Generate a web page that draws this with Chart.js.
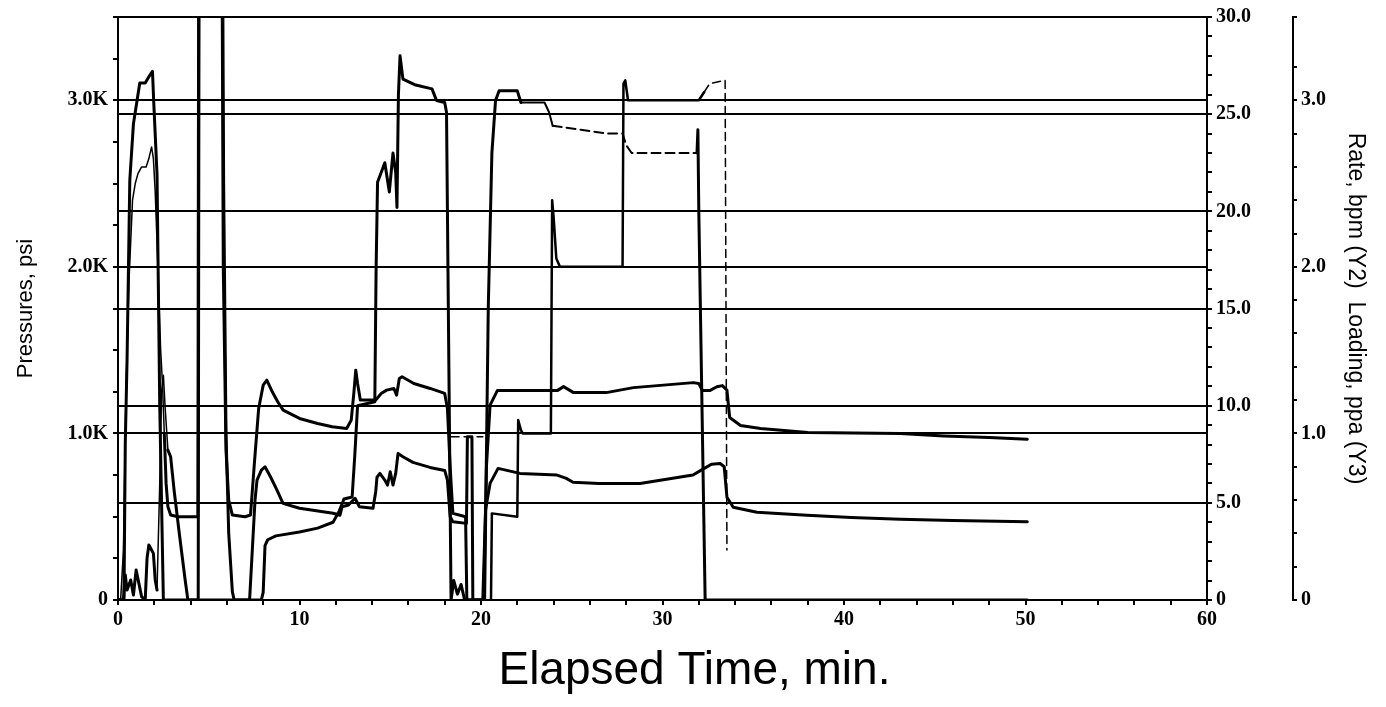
<!DOCTYPE html>
<html>
<head>
<meta charset="utf-8">
<title>Treatment plot</title>
<script src="https://cdn.jsdelivr.net/npm/chart.js@4.4.0/dist/chart.umd.min.js"></script>
<style>
  body { margin: 0; background: #fff; }
</style>
</head>
<body>
<canvas id="chart" width="1386" height="707"></canvas>
<script>
// [minutes, psi]
const treatingPressure = [
  [0, 0], [0.15, 10], [0.3, 300], [0.45, 1300], [0.6, 1900], [0.8, 2400], [0.95, 2500], [1.1, 2560],
  [1.3, 2600], [1.55, 2600], [1.7, 2650], [1.85, 2720], [1.95, 2650], [2.05, 2450], [2.2, 2000],
  [2.35, 1500], [2.45, 1300], [2.55, 1000], [2.65, 700], [2.75, 560], [2.9, 510], [3.3, 500],
  [4.4, 500], [4.45, 4200], [5.72, 4200], [5.8, 2000], [5.95, 900], [6.1, 600], [6.3, 510],
  [7.0, 500], [7.3, 510], [7.5, 800], [7.75, 1150], [8.0, 1290], [8.2, 1320], [8.5, 1250],
  [8.8, 1190], [9.1, 1140], [10.0, 1090], [11.0, 1060], [11.8, 1040], [12.6, 1030], [12.85, 1080],
  [13.0, 1250], [13.1, 1380], [13.2, 1300], [13.35, 1200], [14.2, 1200], [14.5, 1240], [14.8, 1260],
  [15.2, 1270], [15.35, 1230], [15.5, 1330], [15.65, 1340], [16.3, 1300], [17.2, 1270], [18.0, 1240],
  [18.15, 1150], [18.3, 800], [18.45, 520], [19.15, 500], [19.22, 0], [20.15, 0], [20.3, 800],
  [20.5, 1170], [20.9, 1257], [22.1, 1257], [24.2, 1257], [24.55, 1281], [25.1, 1245], [26.9, 1245],
  [28.4, 1275], [31.7, 1305], [32.0, 1300], [32.2, 1257], [32.6, 1257], [33.0, 1280], [33.3, 1287],
  [33.55, 1260], [33.7, 1096], [34.3, 1048], [35.4, 1030], [38.0, 1006], [43.1, 1000], [45.5, 985],
  [48.0, 975], [50.1, 965]
];

// [minutes, psi]
const annulusPressure = [
  [0, 0], [0.3, 0], [0.4, 150], [0.5, 60], [0.7, 120], [0.85, 30], [1.0, 180], [1.15, 100], [1.3, 20],
  [1.5, 0], [1.6, 250], [1.7, 330], [1.85, 300], [1.95, 280], [2.05, 120], [2.15, 60], [2.3, 700],
  [2.4, 1250], [2.5, 1350], [2.6, 1150], [2.75, 900], [2.9, 860], [3.1, 650], [3.4, 380], [3.7, 120],
  [3.85, 0], [4.42, 0], [4.47, 4200], [5.75, 4200], [5.82, 2500], [5.95, 1000], [6.1, 400], [6.3, 50],
  [6.4, 0], [7.25, 0], [7.4, 300], [7.55, 600], [7.66, 720], [7.9, 780], [8.1, 800], [8.4, 740],
  [8.76, 660], [9.09, 580], [10.0, 551], [11.85, 521], [12.23, 509], [12.35, 560], [12.7, 570],
  [13.06, 611], [13.3, 560], [14.05, 551], [14.2, 650], [14.27, 737], [14.43, 760], [14.7, 720],
  [14.85, 690], [15.0, 770], [15.15, 690], [15.3, 760], [15.43, 880], [15.7, 860], [16.25, 826],
  [17.19, 796], [18.0, 778], [18.15, 720], [18.3, 500], [18.45, 470], [19.2, 460], [19.25, 980],
  [19.5, 980], [19.55, 0], [20.1, 0], [20.25, 540], [20.5, 700], [20.94, 790], [22.15, 760],
  [24.19, 750], [24.7, 730], [25.07, 707], [26.5, 700], [28.76, 700], [31.68, 750], [32.3, 790],
  [32.7, 815], [33.17, 820], [33.4, 800], [33.55, 617], [33.9, 557], [35.2, 527], [37.96, 509],
  [40.4, 495], [43.1, 485], [46.0, 478], [50.1, 470]
];

// [minutes, bpm]
const slurryRate = [
  [0, 0], [0.33, 0], [0.4, 8], [0.5, 12.4], [0.65, 21.6], [0.85, 24.5], [1.05, 25.7], [1.2, 26.6],
  [1.5, 26.6], [1.75, 27.0], [1.9, 27.2], [1.97, 25.6], [2.15, 21.9], [2.3, 10], [2.5, 0], [7.9, 0],
  [8.0, 0.4], [8.1, 2.8], [8.25, 3.1], [8.7, 3.3], [10.0, 3.5], [11.0, 3.7], [11.85, 4.0], [12.2, 4.6],
  [12.45, 5.2], [12.9, 5.3], [13.05, 7.5], [13.2, 10], [14.15, 10.2], [14.22, 17], [14.3, 21.5],
  [14.7, 22.5], [14.95, 21.0], [15.15, 23], [15.3, 22], [15.37, 20.2], [15.45, 26], [15.54, 28.0],
  [15.7, 26.8], [16.4, 26.5], [17.3, 26.3], [17.55, 25.7], [18.0, 25.6], [18.1, 25.1], [18.2, 15],
  [18.35, 0], [18.5, 1.0], [18.7, 0.3], [18.9, 0.8], [19.1, 0], [20.2, 0], [20.4, 15], [20.6, 23],
  [20.8, 25.7], [21.0, 26.2], [22.0, 26.2], [22.2, 25.6], [23.5, 25.6], [23.75, 25.1], [23.95, 24.4],
  [25.5, 24.2], [27.0, 24.0], [27.8, 24.0], [28.0, 23.4], [28.3, 23.0], [31.9, 23.0], [31.95, 24.2],
  [32.0, 20], [32.35, 0], [50.1, 0]
];

// [minutes, ppa]
const proppantLoading = [
  [18.35, 0.98], [20.1, 0.98], [20.12, null], [20.55, 0], [20.6, 0.52], [22.0, 0.5], [22.05, 1.08],
  [22.2, 1.02], [22.3, 1.0], [23.85, 1.0], [23.92, 2.4], [24.0, 2.3], [24.15, 2.05], [24.35, 2.0],
  [27.8, 2.0], [27.85, 3.1], [27.95, 3.12], [28.1, 3.0], [32.0, 3.0], [32.3, 3.05], [32.6, 3.1],
  [33.45, 3.12], [33.55, 0.3]
];

const tickFont = { family: "'Liberation Serif', 'DejaVu Serif', serif", size: 20, weight: 'bold' };
const titleFamily = "'Liberation Sans', Arial, sans-serif";
const isWhole = (v, step) => Math.abs(v / step - Math.round(v / step)) < 1e-6;
const clear = 'rgba(0,0,0,0)';

function line(label, data, axis, width, segment) {
  return {
    label: label,
    data: data,
    yAxisID: axis,
    borderColor: '#000',
    borderWidth: width,
    pointRadius: 0,
    tension: 0,
    borderJoinStyle: 'round',
    borderCapStyle: 'round',
    segment: segment || {},
  };
}

const ctx = document.querySelector('#chart').getContext('2d');
new Chart(ctx, {
  type: 'line',
  data: {
    datasets: [
      line('Treating Pressure', treatingPressure, 'y', 3, {
        borderWidth: c => c.p0.parsed.x < 2.55 ? 1.5 : undefined,
      }),
      line('Annulus Pressure', annulusPressure, 'y', 3, {
        borderWidth: c => (c.p0.parsed.x >= 2.15 && c.p0.parsed.x < 2.75) ? 1.5 : undefined,
      }),
      line('Slurry Rate', slurryRate, 'y2', 3, {
        borderWidth: c => (c.p0.parsed.x >= 22.2 && c.p0.parsed.x < 31.9) ? 2 : undefined,
        borderDash: c => (c.p0.parsed.x >= 23.9 && c.p0.parsed.x < 31.9) ? [9, 5] : undefined,
      }),
      line('Proppant Loading', proppantLoading, 'y3', 2.5, {
        borderWidth: c => (c.p0.parsed.x < 20.2 || c.p0.parsed.x >= 32.1) ? 1.5 : undefined,
        borderDash: c => (c.p0.parsed.x < 20.2 || c.p0.parsed.x >= 32.1) ? [8, 5] : undefined,
      }),
    ],
  },
  options: {
    responsive: false,
    animation: false,
    layout: { padding: { top: 15, left: 0, right: 0, bottom: 0 } },
    plugins: {
      legend: { display: false },
      tooltip: { enabled: false },
    },
    scales: {
      x: {
        type: 'linear',
        min: 0,
        max: 60,
        ticks: {
          stepSize: 2,
          autoSkip: false,
          maxRotation: 0,
          color: '#000',
          font: tickFont,
          padding: 3,
          callback: v => isWhole(v, 10) ? String(v) : '',
        },
        grid: { drawOnChartArea: false, color: '#000', lineWidth: 2, tickLength: 5 },
        border: { color: '#000', width: 2 },
        title: {
          display: true,
          text: '     Elapsed Time, min.',
          color: '#000',
          font: { family: titleFamily, size: 46 },
          padding: { top: 0, bottom: 8 },
        },
        afterFit: s => { s.height = 107; },
      },
      y: {
        position: 'left',
        min: 0,
        max: 3500,
        ticks: {
          stepSize: 250,
          autoSkip: false,
          color: '#000',
          font: tickFont,
          padding: 5,
          callback: v => v === 0 ? '0' : (isWhole(v, 1000) ? (v / 1000).toFixed(1) + 'K' : ''),
        },
        grid: {
          color: c => (c.tick && c.tick.value > 0 && (isWhole(c.tick.value, 1000) || c.tick.value === 3500)) ? '#000' : clear,
          tickColor: '#000',
          lineWidth: 2,
          tickLength: 5,
        },
        border: { color: '#000', width: 2 },
        title: {
          display: true,
          text: 'Pressures, psi',
          color: '#000',
          font: { family: titleFamily, size: 22 },
          padding: { top: 13 },
        },
        afterFit: s => { s.width = 118; },
      },
      y2: {
        position: 'right',
        min: 0,
        max: 30,
        ticks: {
          stepSize: 1,
          autoSkip: false,
          color: '#000',
          font: tickFont,
          padding: 4,
          callback: v => v === 0 ? '0' : (isWhole(v, 5) ? v.toFixed(1) : ''),
        },
        grid: {
          color: c => (c.tick && c.tick.value > 0 && isWhole(c.tick.value, 5)) ? '#000' : clear,
          tickColor: '#000',
          lineWidth: 2,
          tickLength: 5,
        },
        border: { color: '#000', width: 2 },
        afterFit: s => { s.width = 86; },
      },
      y3: {
        position: 'right',
        min: 0,
        max: 3.5,
        ticks: {
          stepSize: 0.2,
          autoSkip: false,
          color: '#000',
          font: tickFont,
          padding: 4,
          callback: v => v === 0 ? '0' : (isWhole(v, 1) ? v.toFixed(1) : ''),
        },
        grid: { drawOnChartArea: false, color: '#000', lineWidth: 2, tickLength: 4 },
        border: { color: '#000', width: 2 },
        title: {
          display: true,
          text: 'Rate, bpm (Y2)  Loading, ppa (Y3)',
          color: '#000',
          font: { family: titleFamily, size: 23 },
          padding: { top: 17 },
        },
        afterFit: s => { s.width = 93; },
      },
    },
  },
});
</script>
</body>
</html>
